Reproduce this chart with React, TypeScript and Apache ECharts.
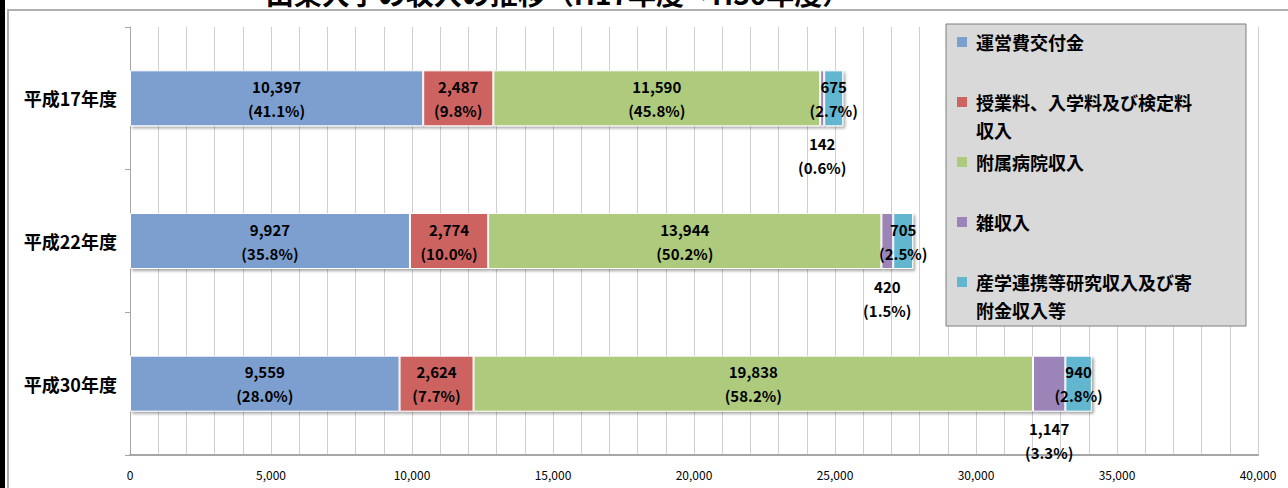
import React, { useEffect, useRef } from "react";
import * as echarts from "echarts";

const categories = ["平成17年度", "平成22年度", "平成30年度"];
const seriesNames = [
  "運営費交付金",
  "授業料、入学料及び検定料収入",
  "附属病院収入",
  "雑収入",
  "産学連携等研究収入及び寄附金収入等",
];
const unkeiValues = [10397, 9927, 9559];
const jugyoValues = [2487, 2774, 2624];
const byoinValues = [11590, 13944, 19838];
const zatsuValues = [142, 420, 1147];
const sangakuValues = [675, 705, 940];

const unkeiPct = ["41.1", "35.8", "28.0"];
const jugyoPct = ["9.8", "10.0", "7.7"];
const byoinPct = ["45.8", "50.2", "58.2"];
const zatsuPct = ["0.6", "1.5", "3.3"];
const sangakuPct = ["2.7", "2.5", "2.8"];

const colors = ["#7B9FCF", "#CC6461", "#AECA7C", "#9B85B8", "#62B6CF"];
const titleText = "山梨大学の収入の推移（H17年度→H30年度）";
const FONT = "'Noto Sans CJK JP', 'Noto Sans', sans-serif";

export default function App() {
  const ref = useRef<HTMLDivElement>(null);
  useEffect(() => {
    if (!ref.current) return;
    const chart = echarts.init(ref.current, null, { renderer: "svg" });
    const valueSets = [unkeiValues, jugyoValues, byoinValues, zatsuValues, sangakuValues];
    const pctSets = [unkeiPct, jugyoPct, byoinPct, zatsuPct, sangakuPct];

    const series = seriesNames.map((name, si) => ({
      name,
      type: "bar",
      stack: "total",
      barWidth: 56,
      data: valueSets[si],
      itemStyle: {
        color: colors[si],
        borderColor: "#ffffff",
        borderWidth: 1,
        shadowColor: "rgba(0,0,0,0.35)",
        shadowBlur: 3,
        shadowOffsetX: 2,
        shadowOffsetY: 2,
      },
      label: {
        show: true,
        position: si === 3 ? "bottom" : "inside",
        distance: 5,
        color: "#000",
        fontFamily: FONT,
        fontWeight: "bold",
        fontSize: 15,
        lineHeight: 24,
        align: "center",
        formatter: (p: any) =>
          `${Number(p.value).toLocaleString("en-US")}\n(${pctSets[si][p.dataIndex]}%)`,
      },
    }));

    const legendChildren: any[] = [
      {
        type: "rect",
        z: 200,
        shape: { x: 946, y: 24, width: 300, height: 302 },
        style: { fill: "#d9d9d9", stroke: "#7f7f7f", lineWidth: 1 },
      },
    ];
    seriesNames.forEach((name, i) => {
      const cy = 42 + 60 * i;
      legendChildren.push({
        type: "rect",
        z: 201,
        shape: { x: 957, y: cy - 5, width: 10, height: 10 },
        style: { fill: colors[i] },
      });
      const lines = (name.match(/.{1,12}/g) || [name]).join("\n");
      legendChildren.push({
        type: "text",
        z: 201,
        x: 976,
        y: cy - 14,
        style: {
          text: lines,
          fontFamily: FONT,
          fontWeight: "bold",
          fontSize: 18,
          lineHeight: 28,
          fill: "#000",
          verticalAlign: "top",
        },
      });
    });

    chart.setOption({
      animation: false,
      backgroundColor: "#ffffff",
      grid: { left: 130, right: 30, top: 27, bottom: 33, containLabel: false },
      xAxis: {
        type: "value",
        min: 0,
        max: 40000,
        interval: 5000,
        axisLine: { show: true, lineStyle: { color: "#a6a6a6", width: 2 } },
        axisTick: { show: false },
        axisLabel: {
          color: "#000",
          fontFamily: FONT,
          fontSize: 12,
          margin: 13,
          formatter: (v: number) => v.toLocaleString("en-US"),
        },
        splitLine: { show: true, lineStyle: { color: "#cfcfcf", width: 1 } },
        minorTick: { show: false, splitNumber: 5 },
        minorSplitLine: { show: true, lineStyle: { color: "#cfcfcf", width: 1 } },
      },
      yAxis: {
        type: "category",
        inverse: true,
        data: categories,
        axisLine: { show: true, lineStyle: { color: "#a6a6a6", width: 1 } },
        axisTick: { show: true, length: 5, lineStyle: { color: "#a6a6a6" } },
        axisLabel: {
          color: "#000",
          fontFamily: FONT,
          fontWeight: "bold",
          fontSize: 18,
          margin: 13,
        },
        splitLine: { show: false },
      },
      series,
      graphic: [
        {
          type: "rect",
          z: 100,
          shape: { x: 8, y: 10, width: 1300, height: 500 },
          style: { fill: "none", stroke: "#b0b0b0", lineWidth: 2 },
        },
        {
          type: "rect",
          z: 100,
          shape: { x: 0, y: 0, width: 5, height: 488 },
          style: { fill: "#000" },
        },
        {
          type: "text",
          z: 100,
          x: 558,
          y: -7,
          style: {
            text: titleText,
            fontFamily: FONT,
            fontWeight: "bold",
            fontSize: 28,
            fill: "#000",
            align: "center",
            verticalAlign: "middle",
          },
        },
        ...legendChildren,
      ],
    });
    return () => chart.dispose();
  }, []);
  return (
    <div
      ref={ref}
      style={{ position: "fixed", left: 0, top: 0, width: 1288, height: 488 }}
    />
  );
}
